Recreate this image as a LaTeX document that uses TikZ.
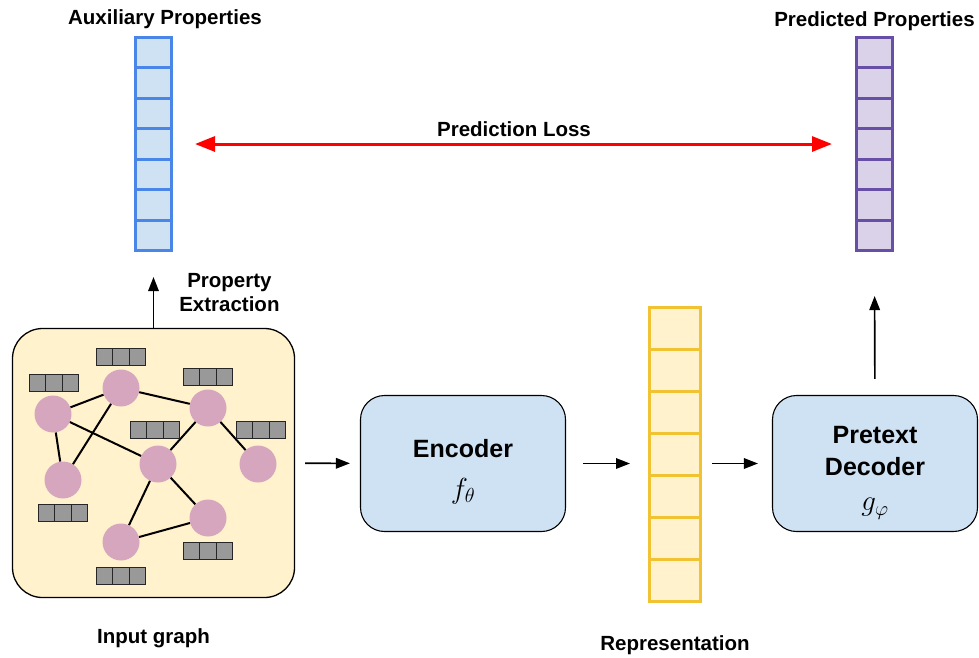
\RequirePackage{fix-cm}
\documentclass[tikz,border=0pt]{standalone}
\usepackage{fontspec}
\setmainfont{Liberation Sans}
\usetikzlibrary{arrows.meta, positioning}
\definecolor{auxline}{HTML}{4A86E8}
\definecolor{auxfill}{HTML}{CFE2F3}
\definecolor{predline}{HTML}{674EA7}
\definecolor{predfill}{HTML}{D9D2E9}
\definecolor{repline}{HTML}{F1C232}
\definecolor{repfill}{HTML}{FFF2CC}
\definecolor{vertexfill}{HTML}{D5A6BD}
\definecolor{featfill}{HTML}{999999}
\tikzstyle{label} = [
  font=\bfseries\fontsize{20.5}{24}\selectfont,
  align=center,
  inner sep=2pt
]
\tikzstyle{graphbox} = [
  rectangle,
  rounded corners=30pt,
  minimum width=282pt,
  minimum height=269pt,
  draw=black,
  line width=1.3pt,
  fill=repfill
]
\tikzstyle{block} = [
  rectangle,
  rounded corners=24pt,
  minimum width=205pt,
  minimum height=136pt,
  text width=190pt,
  align=center,
  draw=black,
  line width=1.1pt,
  fill=auxfill,
  font=\bfseries\fontsize{25}{32}\selectfont
]
\tikzstyle{auxcell} = [
  rectangle,
  minimum width=36pt,
  minimum height=30.43pt,
  draw=auxline,
  line width=3pt,
  fill=auxfill,
  inner sep=0
]
\tikzstyle{predcell} = [
  auxcell,
  draw=predline,
  fill=predfill
]
\tikzstyle{repcell} = [
  auxcell,
  minimum width=51pt,
  minimum height=42pt,
  draw=repline,
  fill=repfill
]
\tikzstyle{vertex} = [
  circle,
  minimum size=37pt,
  inner sep=0,
  fill=vertexfill
]
\tikzstyle{featcell} = [
  rectangle,
  minimum width=16.3pt,
  minimum height=17pt,
  inner sep=0,
  draw=black!85,
  line width=1pt,
  fill=featfill
]
\tikzstyle{edge} = [
  line width=2pt
]
\tikzstyle{arrow} = [
  line width=1.6pt,
  -{Triangle[length=14pt,width=10.5pt]}
]
\tikzstyle{lossarrow} = [
  line width=3pt,
  red,
  {Triangle[length=20pt,width=15pt]}-{Triangle[length=20pt,width=15pt]}
]
\newcommand{\bigmath}[1]{{\fontsize{29}{32}\selectfont$#1$}}

\begin{document}
\begin{tikzpicture}[x=1pt, y=-1pt]
      \useasboundingbox (0,0) rectangle (979,657);

      % property vectors and representation
      \foreach \i in {1,...,7} {
        \node [auxcell] (aux\i) at (153.5, {37.5+30.43*(\i-0.5)}) {};
        \node [predcell] (pred\i) at (874.5, {37.5+30.43*(\i-0.5)}) {};
        \node [repcell] (rep\i) at (675, {307.5+42*(\i-0.5)}) {};
      }
      \node [label] (auxtitle) at (165,19) {Auxiliary Properties};
      \node [label, above=3pt of pred1] (predtitle) {Predicted Properties};
      \node [label, below=30pt of rep7] (reptitle) {Representation};

      % input graph
      \node [graphbox] (graph) at (153.5,463) {};
      \node [label, below=28pt of graph] (graphtitle) {Input graph};
      \node [vertex] (v1) at (53,414) {};
      \node [vertex] (v2) at (121,388) {};
      \node [vertex] (v3) at (208,408) {};
      \node [vertex] (v4) at (63,480) {};
      \node [vertex] (v5) at (158,464) {};
      \node [vertex] (v6) at (258,464) {};
      \node [vertex] (v7) at (208,518) {};
      \node [vertex] (v8) at (121,542) {};
      \draw [edge] (v1) -- (v2);
      \draw [edge] (v2) -- (v3);
      \draw [edge] (v1) -- (v5);
      \draw [edge] (v1) -- (v4);
      \draw [edge] (v2) -- (v4);
      \draw [edge] (v3) -- (v5);
      \draw [edge] (v3) -- (v6);
      \draw [edge] (v5) -- (v7);
      \draw [edge] (v5) -- (v8);
      \draw [edge] (v7) -- (v8);
      \foreach \n/\x/\y in {1/54/383, 2/121/357, 3/208/377, 4/155/430,
                            5/261/430, 6/63/513, 7/208/551, 8/121/576} {
        \foreach \k in {-1,0,1}
          \node [featcell] (feat\n\k) at ({\x+16.3*\k},\y) {};
      }

      % encoder and decoder
      \node [block] (encoder) at (463,463.5) {\rule{0pt}{34pt}Encoder\\[9pt]\bigmath{f_{\theta}}};
      \node [block] (decoder) at (875,463.5) {\rule{0pt}{36pt}Pretext\\Decoder\\[3pt]\bigmath{g_{\varphi}}};

      \draw [arrow, shorten >=25pt] (graph) -- node[label, pos=0.47, right=23pt] (extract) {Property\\Extraction} (aux7);
      \draw [arrow, shorten <=10pt, shorten >=10pt] (graph) -- (encoder);
      \draw [arrow, shorten <=17pt, shorten >=18pt] (encoder.east) -- (encoder.east -| rep4.west);
      \draw [arrow, shorten <=10pt, shorten >=14pt] (rep4.east |- decoder.west) -- (decoder.west);
      \draw [arrow, shorten <=16pt, shorten >=44pt] (decoder) -- (pred7);
      \draw [lossarrow, shorten <=22pt, shorten >=23pt] (aux4) -- node[label, above=4pt, black] (loss) {Prediction Loss} (pred4);

    \end{tikzpicture}
\end{document}
